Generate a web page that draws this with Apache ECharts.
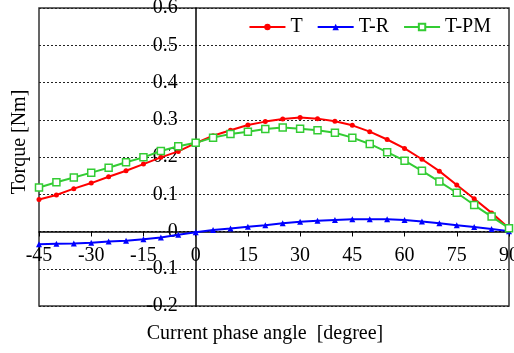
<!DOCTYPE html>
<html>
<head>
<meta charset="utf-8">
<script src="https://cdn.jsdelivr.net/npm/echarts@6/dist/echarts.min.js"></script>
<style>
  html, body {
    margin: 0;
    padding: 0;
    background-color: #fff;
  }
  #chart {
    width: 514px;
    height: 353px;
  }
</style>
</head>
<body>
<div id="chart"></div>
<script>
const angles = [-45, -40, -35, -30, -25, -20, -15, -10, -5, 0, 5, 10, 15, 20, 25, 30, 35, 40, 45, 50, 55, 60, 65, 70, 75, 80, 85, 90]
const torqueT = [0.086, 0.098, 0.115, 0.130, 0.147, 0.163, 0.181, 0.199, 0.215, 0.237, 0.257, 0.272, 0.286, 0.295, 0.302, 0.306, 0.303, 0.296, 0.285, 0.268, 0.247, 0.223, 0.194, 0.162, 0.125, 0.088, 0.050, 0.009]
const torqueR = [-0.034, -0.033, -0.032, -0.030, -0.027, -0.025, -0.021, -0.016, -0.009, -0.002, 0.004, 0.008, 0.013, 0.017, 0.022, 0.026, 0.029, 0.031, 0.033, 0.033, 0.033, 0.031, 0.027, 0.022, 0.017, 0.012, 0.007, 0.001]
const torquePM = [0.118, 0.132, 0.145, 0.158, 0.171, 0.186, 0.199, 0.216, 0.229, 0.238, 0.252, 0.262, 0.268, 0.275, 0.279, 0.276, 0.272, 0.265, 0.252, 0.235, 0.213, 0.190, 0.163, 0.134, 0.104, 0.071, 0.040, 0.009]
const seriesNames = ['T', 'T-R', 'T-PM']

const font = 'Liberation Serif'

function pairs (values) {
  return angles.map((a, i) => [a, values[i]])
}

// plot box, px
const gridLeft = 39
const gridRight = 5
const gridTop = 8
const gridBottom = 47
const W = 514
const H = 353
const xMin = -45
const xMax = 90
const yMin = -0.2
const yMax = 0.6
// shift the axes from the box edge to the zero lines
const yAxisShift = (0 - xMin) / (xMax - xMin) * (W - gridLeft - gridRight)
const xAxisShift = (0 - yMin) / (yMax - yMin) * (H - gridTop - gridBottom)

let chart = echarts.init(document.getElementById('chart'))
let option = {
  animation: false,
  textStyle: {
    fontFamily: font
  },
  grid: {
    left: gridLeft,
    right: gridRight,
    top: gridTop,
    bottom: gridBottom,
    containLabel: false,
    outerBoundsMode: 'none',
    show: true,
    borderColor: '#333',
    borderWidth: 1.5
  },
  legend: {
    right: 18,
    top: 12,
    itemWidth: 36,
    itemHeight: 8,
    itemGap: 14,
    textStyle: {
      fontFamily: font,
      fontSize: 20,
      color: '#000'
    },
    data: seriesNames
  },
  xAxis: {
    type: 'value',
    min: xMin,
    max: xMax,
    interval: 15,
    position: 'bottom',
    offset: -xAxisShift,
    name: 'Current phase angle  [degree]',
    nameLocation: 'middle',
    nameGap: 92,
    nameTextStyle: {
      fontFamily: font,
      fontSize: 20,
      color: '#000',
      padding: [0, 18, 0, 0]
    },
    axisLine: {
      onZero: false,
      lineStyle: { color: '#000', width: 1.5 }
    },
    axisTick: {
      length: 5,
      lineStyle: { color: '#000' }
    },
    axisLabel: {
      fontFamily: font,
      fontSize: 20,
      color: '#000',
      margin: 14
    },
    splitLine: { show: false }
  },
  yAxis: {
    type: 'value',
    min: yMin,
    max: yMax,
    interval: 0.1,
    position: 'left',
    offset: -yAxisShift,
    name: 'Torque [Nm]',
    nameLocation: 'middle',
    nameGap: 166,
    nameTextStyle: {
      fontFamily: font,
      fontSize: 20,
      color: '#000',
      padding: [0, 0, 0, 30]
    },
    axisLine: {
      onZero: false,
      lineStyle: { color: '#000', width: 1.5 }
    },
    axisTick: { show: false },
    axisLabel: {
      fontFamily: font,
      fontSize: 20,
      color: '#000',
      margin: 18,
      formatter: v => Math.round(v * 10) / 10
    },
    splitLine: {
      show: true,
      lineStyle: { color: '#222', type: [2, 2], width: 1 }
    }
  },
  series: [
    {
      name: seriesNames[0],
      type: 'line',
      symbol: 'circle',
      symbolSize: 5,
      lineStyle: { color: '#ff0000', width: 2 },
      itemStyle: { color: '#ff0000' },
      data: pairs(torqueT)
    },
    {
      name: seriesNames[1],
      type: 'line',
      symbol: 'triangle',
      symbolSize: 6,
      lineStyle: { color: '#0000ff', width: 2 },
      itemStyle: { color: '#0000ff' },
      data: pairs(torqueR)
    },
    {
      name: seriesNames[2],
      type: 'line',
      symbol: 'rect',
      symbolSize: 7,
      lineStyle: { color: '#33cc33', width: 2 },
      itemStyle: { color: '#fff', borderColor: '#33cc33', borderWidth: 1.5 },
      data: pairs(torquePM)
    }
  ]
}
chart.setOption(option)
</script>
</body>
</html>
